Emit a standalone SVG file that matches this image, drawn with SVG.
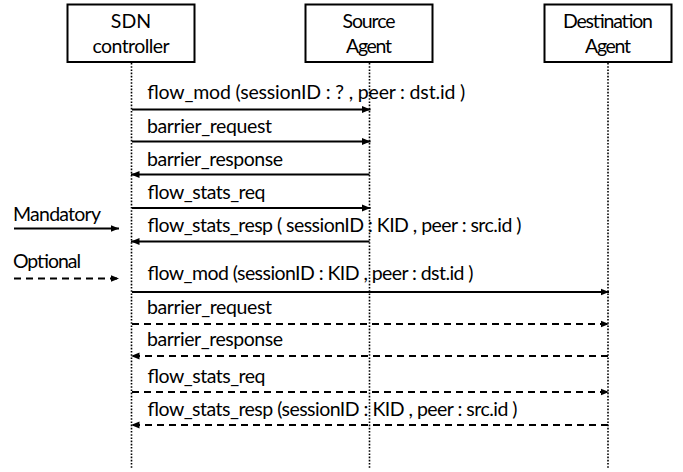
<svg xmlns="http://www.w3.org/2000/svg" width="683" height="472" viewBox="0 0 683 472">
<style>
text{font-family:Lato,"Open Sans","Liberation Sans",sans-serif;font-size:19.5px;fill:#000}
.hdr{text-anchor:middle}
.box{fill:#fff;stroke:#000;stroke-width:2}
.life{stroke:#000;stroke-width:1.6;stroke-dasharray:1.6 1.6;fill:none}
.m{stroke:#000;stroke-width:1.8;fill:none}
.o{stroke:#000;stroke-width:1.8;fill:none;stroke-dasharray:7 5}
</style>
<defs>
<marker id="ah" markerUnits="userSpaceOnUse" markerWidth="9" markerHeight="8" refX="8.5" refY="4" orient="auto">
<path d="M0,0.5 L8.5,4 L0,7.5 z" fill="#000"/>
</marker>
</defs>
<g id="sdn">
<rect class="box" x="67.5" y="4.5" width="127" height="57.5"/>
<text class="hdr" x="131" y="28">SDN</text>
<text class="hdr" x="131" y="52.5" textLength="77">controller</text>
</g>
<g id="source">
<rect class="box" x="305.5" y="4.5" width="127" height="57.5"/>
<text class="hdr" x="369" y="28" textLength="53">Source</text>
<text class="hdr" x="369" y="52.5" textLength="46">Agent</text>
</g>
<g id="dest">
<rect class="box" x="544.5" y="4.5" width="127" height="57.5"/>
<text class="hdr" x="608" y="28" textLength="90">Destination</text>
<text class="hdr" x="608" y="52.5" textLength="46">Agent</text>
</g>
<g id="lifelines">
<line class="life" x1="131.5" y1="63" x2="131.5" y2="468"/>
<line class="life" x1="369.5" y1="63" x2="369.5" y2="468"/>
<line class="life" x1="608" y1="63" x2="608" y2="468"/>
</g>
<g id="connectors">
<line class="m" x1="132" y1="109.5" x2="370.5" y2="109.5" marker-end="url(#ah)"/>
<line class="m" x1="132" y1="141.5" x2="370.5" y2="141.5" marker-end="url(#ah)"/>
<line class="m" x1="369.5" y1="174.5" x2="131" y2="174.5" marker-end="url(#ah)"/>
<line class="m" x1="132" y1="208" x2="370.5" y2="208" marker-end="url(#ah)"/>
<line class="m" x1="369.5" y1="241.5" x2="131" y2="241.5" marker-end="url(#ah)"/>
<line class="m" x1="132" y1="292" x2="609" y2="292" marker-end="url(#ah)"/>
<line class="o" x1="132" y1="324" x2="609" y2="324" marker-end="url(#ah)"/>
<line class="o" x1="608" y1="356" x2="131" y2="356" marker-end="url(#ah)"/>
<line class="o" x1="132" y1="392" x2="609" y2="392" marker-end="url(#ah)"/>
<line class="o" x1="608" y1="425" x2="131" y2="425" marker-end="url(#ah)"/>
</g>
<g id="labels">
<text x="147" y="99" textLength="318">flow_mod (sessionID : ? , peer : dst.id )</text>
<text x="147" y="133" textLength="125">barrier_request</text>
<text x="147" y="166" textLength="136">barrier_response</text>
<text x="147" y="199" textLength="118">flow_stats_req</text>
<text x="147" y="232" textLength="374">flow_stats_resp ( sessionID : KID , peer : src.id )</text>
<text x="147" y="280" textLength="326">flow_mod (sessionID : KID , peer : dst.id )</text>
<text x="147" y="313.5" textLength="125">barrier_request</text>
<text x="147" y="346" textLength="136">barrier_response</text>
<text x="147" y="382.5" textLength="118">flow_stats_req</text>
<text x="147" y="416" textLength="370">flow_stats_resp (sessionID : KID , peer : src.id )</text>
</g>
<g id="legend">
<text x="13" y="221" textLength="88">Mandatory</text>
<line class="m" x1="14" y1="228.5" x2="119" y2="228.5" marker-end="url(#ah)"/>
<text x="13" y="268" textLength="68">Optional</text>
<line class="o" x1="14" y1="278.5" x2="119" y2="278.5" marker-end="url(#ah)"/>
</g>
</svg>
